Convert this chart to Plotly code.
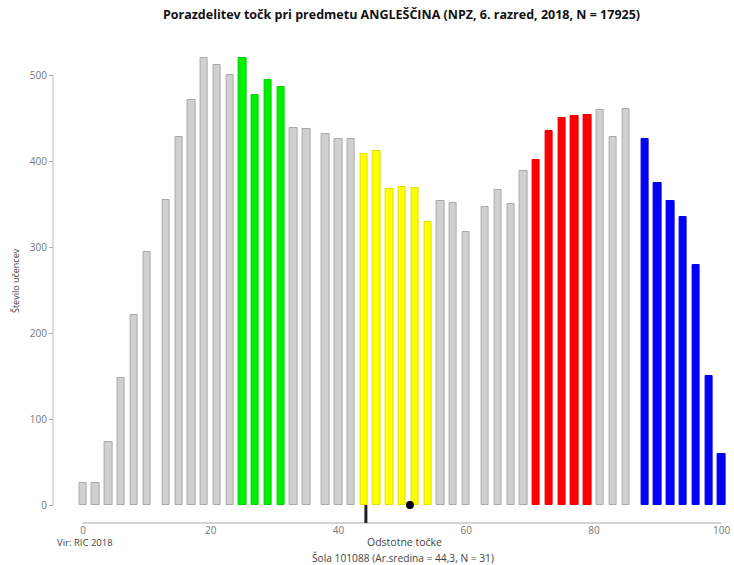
import plotly.graph_objects as go

# ---- data ----
points = [0, 2, 4, 6, 8, 10, 13, 15, 17, 19, 21, 23, 25, 27, 29, 31, 33, 35,
          38, 40, 42, 44, 46, 48, 50, 52, 54, 56, 58, 60,
          63, 65, 67, 69, 71, 73, 75, 77, 79, 81, 83, 85,
          88, 90, 92, 94, 96, 98, 100]
counts = [26, 26, 73, 148, 221, 294, 355, 428, 471, 520, 512, 500, 520, 477, 494, 486, 439, 437,
          432, 426, 426, 408, 412, 367, 370, 369, 329, 354, 351, 317,
          347, 366, 350, 389, 401, 435, 450, 452, 454, 459, 428, 461,
          426, 374, 354, 335, 279, 150, 59]
green_points = [25, 27, 29, 31]
yellow_points = [44, 46, 48, 50, 52, 54]
red_points = [71, 73, 75, 77, 79]
blue_points = [88, 90, 92, 94, 96, 98, 100]
school_mean = 44.3
national_mean = 51.2
y_ticks = [0, 100, 200, 300, 400, 500]
x_ticks = [0, 20, 40, 60, 80, 100]

title = "Porazdelitev točk pri predmetu ANGLEŠČINA (NPZ, 6. razred, 2018, N = 17925)"
y_title = "Število učencev"
x_title = "Odstotne točke"
school_text = "Šola 101088 (Ar.sredina = 44,3, N = 31)"
source_text = "Vir: RIC 2018"

# ---- styling ----
W, H = 734, 565
ml, mr, mt, mb = 53, 5.6, 57, 42
plot_w = W - ml - mr
plot_h = H - mt - mb
x_dom0 = (76.61 - ml) / plot_w
y_dom0 = 18 / plot_h


def colour(p):
    if p in green_points:
        return "#00f000", "#00d000"
    if p in yellow_points:
        return "#ffff00", "#e0e000"
    if p in red_points:
        return "#ff0000", "#e00000"
    if p in blue_points:
        return "#0000ff", "#0000e0"
    return "#d0d0d0", "#a8a8a8"


fills = [colour(p)[0] for p in points]
lines = [colour(p)[1] for p in points]

font = "Open Sans"
fig = go.Figure()
fig.add_trace(go.Bar(
    x=points, y=counts, width=1.15,
    marker=dict(color=fills, line=dict(color=lines, width=1)),
    hoverinfo="x+y", showlegend=False,
))
fig.add_trace(go.Scatter(
    x=[national_mean], y=[0], mode="markers",
    marker=dict(color="black", size=8), cliponaxis=False, showlegend=False,
))

fig.update_layout(
    width=W, height=H,
    margin=dict(l=ml, r=mr, t=mt, b=mb, pad=0, autoexpand=False),
    paper_bgcolor="white", plot_bgcolor="white",
    font=dict(family=font, color="#555"),
    bargap=0,
    title=dict(text="<b>" + title + "</b>", x=401.5 / W, xref="container",
               y=1 - 15 / H, yref="container", xanchor="center", yanchor="middle",
               font=dict(size=12.5, color="#111", family=font)),
    xaxis=dict(range=[-1, 101], domain=[x_dom0, 1], anchor="free", position=0,
               automargin=False,
               showgrid=False, zeroline=False, showline=False,
               tickvals=x_ticks, ticks="", tickfont=dict(size=10, color="#777")),
    yaxis=dict(range=[0, 521], domain=[y_dom0, 1], anchor="free", position=0,
               automargin=False,
               showgrid=False, zeroline=False, showline=False,
               tickvals=y_ticks, ticks="outside", ticklen=4, tickcolor="#aaa",
               tickfont=dict(size=10, color="#777")),
)

# axis lines (span first to last tick)
fig.add_shape(type="line", xref="paper", yref="y", x0=0, x1=0, y0=0, y1=500,
              line=dict(color="#bbb", width=1))
fig.add_shape(type="line", xref="x", yref="paper", x0=0, x1=100, y0=0, y1=0,
              line=dict(color="#d4d4d4", width=2))
# school mean marker
fig.add_shape(type="line", xref="x", yref="paper", x0=school_mean, x1=school_mean,
              y0=0, y1=y_dom0, line=dict(color="#222", width=3))

def px_x(px):
    return (px - ml) / plot_w

def px_y(py):
    return (H - mb - py) / plot_h

fig.add_annotation(text=y_title, textangle=-90, x=px_x(15), y=px_y(281),
                   xref="paper", yref="paper", showarrow=False,
                   xanchor="center", yanchor="middle",
                   font=dict(size=9, color="#444"))
fig.add_annotation(text=source_text, x=px_x(55), y=px_y(542), xanchor="left",
                   yanchor="middle",
                   xref="paper", yref="paper", showarrow=False,
                   font=dict(size=9.5, color="#444"))
fig.add_annotation(text=x_title, x=px_x(405), y=px_y(542),
                   xanchor="center", yanchor="middle",
                   xref="paper", yref="paper", showarrow=False,
                   font=dict(size=10.5, color="#444"))
fig.add_annotation(text=school_text, x=px_x(403), y=px_y(558),
                   xanchor="center", yanchor="middle",
                   xref="paper", yref="paper", showarrow=False,
                   font=dict(size=10.2, color="#444"))

fig.write_html("out.html", config={"displayModeBar": False},
               post_script="document.body.style.margin='0';")
